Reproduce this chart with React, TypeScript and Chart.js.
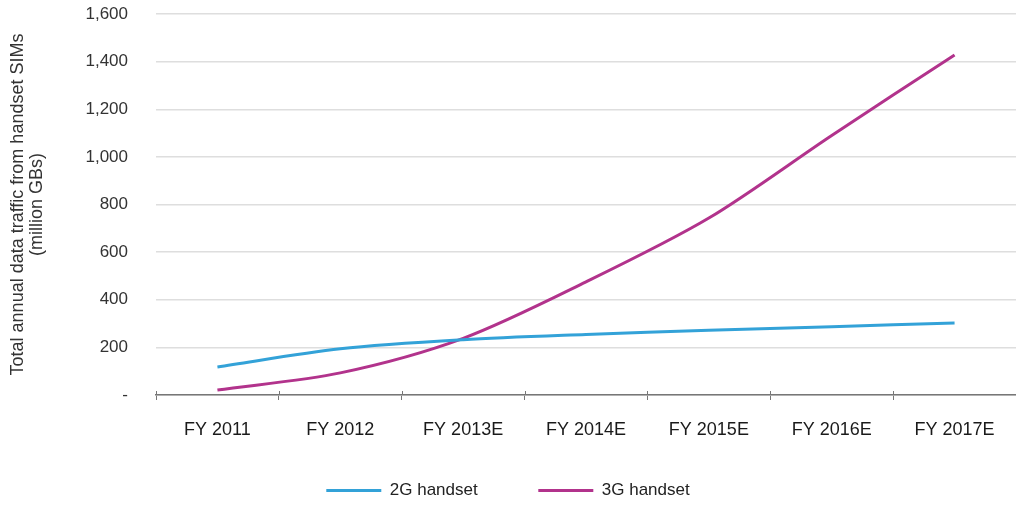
import React, { useEffect, useRef } from "react";
import { Chart, registerables } from "chart.js";

Chart.register(...registerables);

const categories = ["FY 2011", "FY 2012", "FY 2013E", "FY 2014E", "FY 2015E", "FY 2016E", "FY 2017E"];
const series2G = [118, 194, 232, 254, 272, 287, 302];
const series3G = [21, 93, 238, 475, 743, 1090, 1428];
const yTitleLines = ["Total annual data traffic from handset SIMs", "(million GBs)"];
const legendLabels = ["2G handset", "3G handset"];

const FONT = "'Liberation Sans', Arial, sans-serif";
const LEGEND_PAD = 37;

const tickMarksPlugin = {
  id: "tickMarksAbove",
  afterDraw(chart: any) {
    const x = chart.scales.x;
    const ctx = chart.ctx;
    const n = x.ticks.length;
    const step = x.width / n;
    ctx.save();
    ctx.strokeStyle = "#777";
    ctx.lineWidth = 1;
    ctx.beginPath();
    for (let i = 0; i <= n; i++) {
      const px = Math.round(x.left + i * step) + 0.5;
      ctx.moveTo(px, x.top - 4);
      ctx.lineTo(px, x.top);
    }
    ctx.stroke();
    ctx.restore();
  },
};

export default function App() {
  const ref = useRef<HTMLCanvasElement>(null);
  useEffect(() => {
    document.body.style.margin = "0";
    const chart = new Chart(ref.current!, {
      type: "line",
      data: {
        labels: categories,
        datasets: [
          {
            label: legendLabels[0],
            data: series2G,
            borderColor: "#33a2d8",
            backgroundColor: "#33a2d8",
            borderWidth: 3,
            pointRadius: 0,
            tension: 0.3,
          },
          {
            label: legendLabels[1],
            data: series3G,
            borderColor: "#b2338c",
            backgroundColor: "#b2338c",
            borderWidth: 3,
            pointRadius: 0,
            tension: 0.3,
          },
        ],
      },
      options: {
        animation: false,
        responsive: false,
        maintainAspectRatio: false,
        layout: { padding: { top: 14, right: 0, bottom: 3, left: 0 } },
        plugins: {
          tooltip: { enabled: false },
          legend: {
            position: "bottom",
            labels: {
              usePointStyle: true,
              pointStyle: "line",
              pointStyleWidth: 55,
              padding: LEGEND_PAD,
              color: "#222",
              font: { family: FONT, size: 17 },
              generateLabels: (c: any) => {
                const items = Chart.defaults.plugins.legend.labels.generateLabels(c);
                items.forEach((it: any, i: number) => {
                  if (i < items.length - 1) it.text = it.text + "     ";
                });
                return items;
              },
            },
          },
        },
        scales: {
          x: {
            offset: true,
            afterFit: (s: any) => {
              s.height = 50;
            },
            grid: {
              offset: true,
              drawOnChartArea: false,
              drawTicks: true,
              tickLength: 5,
              color: "#777",
            },
            border: { display: true, color: "#777", width: 1.5 },
            ticks: {
              padding: 19,
              color: "#1a1a1a",
              maxRotation: 0,
              font: { family: FONT, size: 18 },
            },
          },
          y: {
            min: 0,
            max: 1600,
            afterFit: (s: any) => {
              s.width = 156;
              s.paddingTop = 0;
              s.paddingBottom = 0;
            },
            grid: { color: "#dedede", lineWidth: 1.5, drawTicks: false },
            border: { display: false },
            ticks: {
              stepSize: 200,
              padding: 28,
              color: "#333",
              font: { family: FONT, size: 17 },
              callback: (v: any) => (Number(v) === 0 ? "-" : Number(v).toLocaleString("en-US")),
            },
            title: {
              display: true,
              text: yTitleLines,
              color: "#333",
              padding: { top: 9, bottom: 0 },
              font: { family: FONT, size: 18, lineHeight: 1.05 },
            },
          },
        },
      },
      plugins: [tickMarksPlugin],
    });
    return () => chart.destroy();
  }, []);
  return <canvas ref={ref} width={1016} height={512} style={{ display: "block" }} />;
}
